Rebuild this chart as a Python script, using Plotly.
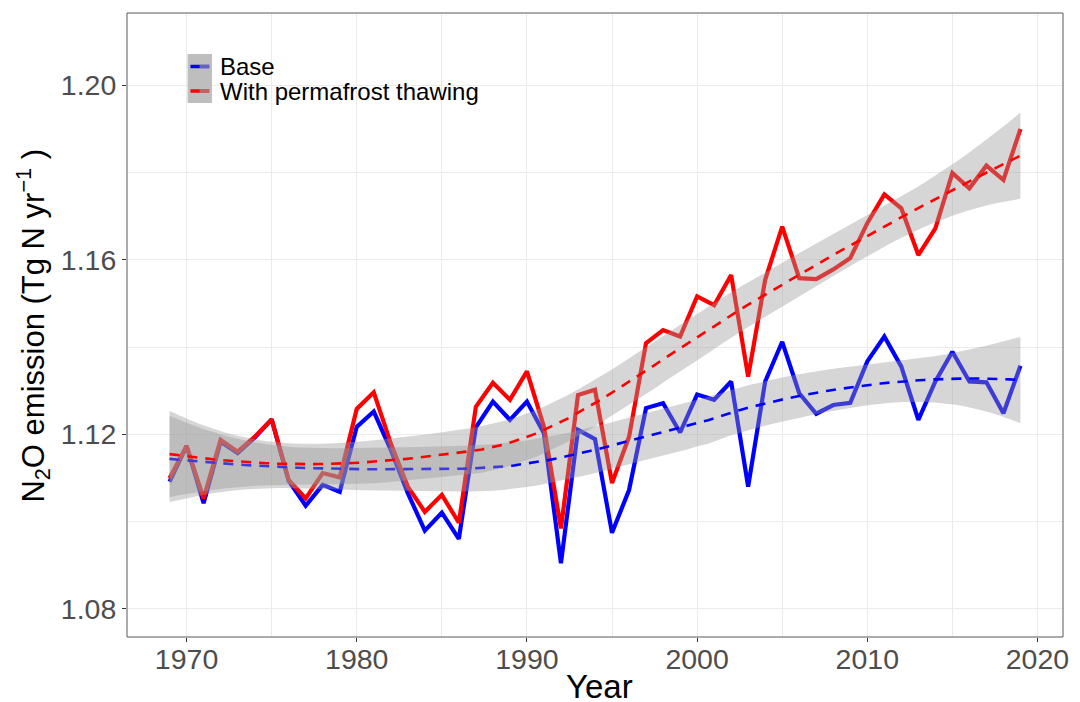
import numpy as np
import plotly.graph_objects as go

# ---- data -------------------------------------------------------------
years = list(range(1969, 2020))

base = [1.1091, 1.1173, 1.1042, 1.1183, 1.1157, 1.1192, 1.1234, 1.1093, 1.1036, 1.1084,
        1.1068, 1.1217, 1.1252, 1.1164, 1.1065, 1.0979, 1.1020, 1.0960, 1.1216, 1.1275,
        1.1233, 1.1275, 1.1202, 1.0904, 1.1210, 1.1189, 1.0974, 1.1072, 1.1260, 1.1271,
        1.1204, 1.1291, 1.1279, 1.1321, 1.1080, 1.1321, 1.1412, 1.1294, 1.1247, 1.1267,
        1.1272, 1.1367, 1.1424, 1.1355, 1.1233, 1.1321, 1.1389, 1.1321, 1.1319, 1.1248,
        1.1357]

permafrost = [1.1099, 1.1173, 1.1053, 1.1187, 1.1160, 1.1194, 1.1234, 1.1095, 1.1053, 1.1111,
              1.1101, 1.1258, 1.1296, 1.1179, 1.1080, 1.1022, 1.1061, 1.0997, 1.1263, 1.1318,
              1.1279, 1.1344, 1.1217, 1.0984, 1.1290, 1.1302, 1.1088, 1.1194, 1.1409, 1.1439,
              1.1424, 1.1516, 1.1496, 1.1565, 1.1332, 1.1554, 1.1676, 1.1558, 1.1556, 1.1578,
              1.1604, 1.1684, 1.1750, 1.1718, 1.1611, 1.1672, 1.1799, 1.1764, 1.1816, 1.1783,
              1.1900]

series_names = ["Base", "With permafrost thawing"]
series_colors = ["#0000FF", "#FF0000"]
x_ticks = [1970, 1980, 1990, 2000, 2010, 2020]
y_ticks = [1.08, 1.12, 1.16, 1.20]


# ---- local quadratic regression (loess, span 0.75) with 95% band -------
def t_quantile_975(df):
    z = 1.959963985
    g1 = (z**3 + z) / 4
    g2 = (5 * z**5 + 16 * z**3 + 3 * z) / 96
    g3 = (3 * z**7 + 19 * z**5 + 17 * z**3 - 15 * z) / 384
    return z + g1 / df + g2 / df**2 + g3 / df**3


def loess_band(x, y, xnew, span=0.75):
    x = np.asarray(x, float)
    y = np.asarray(y, float)
    n = len(x)
    q = int(np.floor(n * span))

    def row(x0):
        d = np.abs(x - x0)
        h = np.sort(d)[q - 1]
        u = np.clip(d / h, 0, 1)
        w = (1 - u**3) ** 3
        X = np.column_stack([np.ones(n), x - x0, (x - x0) ** 2])
        XtW = X.T * w
        return np.linalg.solve(XtW @ X, XtW)[0]

    L = np.array([row(v) for v in x])
    Lnew = np.array([row(v) for v in xnew])
    res = y - L @ y
    IL = np.eye(n) - L
    M = IL.T @ IL
    d1 = np.trace(M)
    d2 = np.trace(M @ M)
    s = np.sqrt(np.sum(res**2) / d1)
    tq = t_quantile_975(d1**2 / d2)
    fit = Lnew @ y
    se = s * np.sqrt(np.sum(Lnew**2, axis=1))
    return fit, fit - tq * se, fit + tq * se


xs = np.linspace(min(years), max(years), 80)

# ---- figure -----------------------------------------------------------
W, H = 1080, 702
ML, MR, MT, MB = 127, 11, 13, 65
PW, PH = W - ML - MR, H - MT - MB
FONT = "Liberation Sans, Arial, sans-serif"


def px_x(p):
    return (p - ML) / PW


def px_y(p):
    return (H - MB - p) / PH


fig = go.Figure()

# raw annual series
for vals, name, col in zip([base, permafrost], series_names, series_colors):
    fig.add_trace(go.Scatter(x=years, y=vals, mode="lines", name=name,
                             line=dict(color=col, width=4.2), showlegend=False))

# smoothed trend + confidence ribbon for each series
for vals, name, col in zip([base, permafrost], series_names, series_colors):
    fit, lo, hi = loess_band(years, vals, xs)
    fig.add_trace(go.Scatter(x=np.concatenate([xs, xs[::-1]]),
                             y=np.concatenate([hi, lo[::-1]]),
                             fill="toself", fillcolor="rgba(153,153,153,0.4)",
                             line=dict(width=0), mode="lines", hoverinfo="skip",
                             showlegend=False))
    fig.add_trace(go.Scatter(x=xs, y=fit, mode="lines",
                             line=dict(color=col, width=2.6, dash="10px,8px"),
                             showlegend=False))

# legend drawn inside the panel
shapes = [
    dict(type="rect", xref="paper", yref="paper",
         x0=px_x(188), x1=px_x(212.5), y0=px_y(103), y1=px_y(54),
         fillcolor="#BEBEBE", line=dict(width=0), layer="above"),
    dict(type="rect", xref="paper", yref="paper",
         x0=0, x1=1, y0=0, y1=1, line=dict(color="#595959", width=1),
         layer="above"),
]
annotations = []
key_light = ["#6262C4", "#C46262"]
for i, (name, col) in enumerate(zip(series_names, series_colors)):
    yk = 66.5 + i * 24.5
    shapes.append(dict(type="line", xref="paper", yref="paper",
                       x0=px_x(191), x1=px_x(210), y0=px_y(yk), y1=px_y(yk),
                       line=dict(color=key_light[i], width=4), layer="above"))
    shapes.append(dict(type="line", xref="paper", yref="paper",
                       x0=px_x(191), x1=px_x(200), y0=px_y(yk), y1=px_y(yk),
                       line=dict(color=col, width=3), layer="above"))
    annotations.append(dict(text=name, xref="paper", yref="paper",
                            x=px_x(219), y=px_y(yk), xanchor="left", yanchor="middle",
                            showarrow=False, font=dict(family=FONT, size=24, color="#000000")))

# axis titles
annotations.append(dict(text="Year", xref="paper", yref="paper",
                        x=px_x(603), y=px_y(686), xanchor="center", yanchor="middle",
                        showarrow=False, font=dict(family=FONT, size=33, color="#000000")))
annotations.append(dict(text="N<sub>2</sub>O emission (Tg N yr<sup>\u22121</sup> )",
                        xref="paper", yref="paper", textangle=-90,
                        x=px_x(32), y=px_y(326), xanchor="center", yanchor="middle",
                        showarrow=False, font=dict(family=FONT, size=31, color="#000000")))

axis_common = dict(showline=False, zeroline=False, ticks="outside", ticklen=4,
                   tickcolor="#333333", tickwidth=1, showgrid=True,
                   gridcolor="#EBEBEB", gridwidth=1.1,
                   tickfont=dict(family=FONT, size=28.5, color="#4D4D4D"))

fig.update_layout(
    width=W, height=H,
    margin=dict(l=ML, r=MR, t=MT, b=MB, pad=0),
    paper_bgcolor="white", plot_bgcolor="white",
    xaxis=dict(range=[1966.5, 2021.5], tickvals=x_ticks, ticklabelstandoff=-7,
               minor=dict(tickvals=[1975, 1985, 1995, 2005, 2015], showgrid=True,
                          gridcolor="#EBEBEB", gridwidth=0.8, ticks=""),
               **axis_common),
    yaxis=dict(range=[1.0735, 1.2166], tickvals=y_ticks, tickformat=".2f",
               minor=dict(tickvals=[1.10, 1.14, 1.18], showgrid=True,
                          gridcolor="#EBEBEB", gridwidth=0.8, ticks=""),
               **axis_common),
    shapes=shapes, annotations=annotations, showlegend=False,
)

fig.write_html("out.html")
